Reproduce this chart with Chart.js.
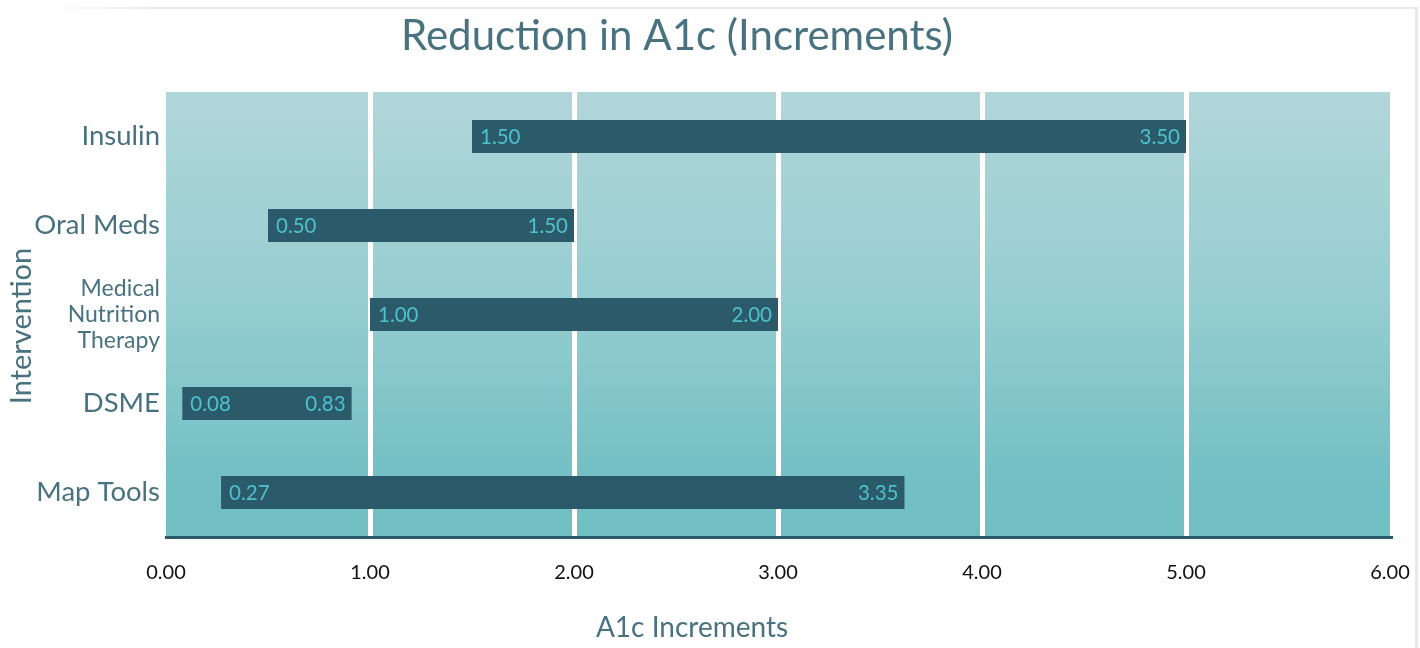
<!DOCTYPE html>
<html>
<head>
<meta charset="utf-8">
<script src="https://cdn.jsdelivr.net/npm/chart.js@4.4.1/dist/chart.umd.min.js"></script>
<style>
  html, body { margin: 0; padding: 0; background: #ffffff; }
  #wrap { position: relative; width: 1420px; height: 648px; overflow: hidden; }
  #frame {
    position: absolute; left: 0; top: 7px; width: 1418px; height: 660px;
    border-top: 2px solid #e7e9f1; border-right: 3px solid #e7e9f1;
    box-sizing: border-box; pointer-events: none;
    -webkit-mask-image: linear-gradient(to right, transparent 40px, #000 160px);
            mask-image: linear-gradient(to right, transparent 40px, #000 160px);
  }
  canvas { position: absolute; left: 0; top: 0; }
</style>
</head>
<body>
<div id="wrap">
  <div id="frame"></div>
  <canvas id="chart" width="1420" height="648"></canvas>
</div>
<script>
// Interventions on the category axis
const categories = ['Insulin', 'Oral Meds', ['Medical', 'Nutrition', 'Therapy'], 'DSME', 'Map Tools'];
// Where each reduction range starts (A1c)
const rangeStart = [1.50, 0.50, 1.00, 0.08, 0.27];
// Size of each reduction range (A1c), stacked on top of the start
const rangeSize = [3.50, 1.50, 2.00, 0.83, 3.35];
// Value axis ticks
const xTicks = [0, 1, 2, 3, 4, 5, 6];

const TEXT_BLUE = '#48727f';
const BAR_COLOR = '#2b5a6a';
const LABEL_COLOR = '#4fc1ca';
const FONT = 'Lato, "Open Sans", sans-serif';

// Vertical teal gradient behind the plot area
const plotBackground = {
  id: 'plotBackground',
  beforeDraw(chart) {
    const { ctx, chartArea: a } = chart;
    const g = ctx.createLinearGradient(0, a.top, 0, a.bottom);
    g.addColorStop(0, '#b1d6d9');
    g.addColorStop(0.45, '#97ced1');
    g.addColorStop(0.85, '#74c0c4');
    g.addColorStop(1, '#71bfc3');
    ctx.save();
    ctx.fillStyle = g;
    ctx.fillRect(a.left, a.top, a.right - a.left, a.bottom - a.top);
    ctx.restore();
  }
};

// Value text at the start and the end of every visible range bar
const rangeLabels = {
  id: 'rangeLabels',
  afterDatasetsDraw(chart) {
    const { ctx } = chart;
    const sizeMeta = chart.getDatasetMeta(1);
    ctx.save();
    ctx.font = '20.5px ' + FONT;
    ctx.fillStyle = LABEL_COLOR;
    ctx.textBaseline = 'middle';
    sizeMeta.data.forEach((bar, i) => {
      const { x, y, base } = bar.getProps(['x', 'y', 'base'], true);
      ctx.textAlign = 'left';
      ctx.fillText(rangeStart[i].toFixed(2), base + 8, y + 1);
      ctx.textAlign = 'right';
      ctx.fillText(rangeSize[i].toFixed(2), x - 6, y + 1);
    });
    ctx.restore();
  }
};

// Chart title and axis titles
const titles = {
  id: 'titles',
  afterDraw(chart) {
    const { ctx } = chart;
    ctx.save();
    ctx.fillStyle = TEXT_BLUE;
    ctx.textAlign = 'center';
    ctx.textBaseline = 'alphabetic';
    ctx.font = '42px ' + FONT;
    ctx.fillText('Reduction in A1c (Increments)', 677, 50);
    ctx.font = '28px ' + FONT;
    ctx.fillText('A1c Increments', 692, 637);
    ctx.font = '29px ' + FONT;
    ctx.translate(31, 326);
    ctx.rotate(-Math.PI / 2);
    ctx.fillText('Intervention', 0, 0);
    ctx.restore();
  }
};

new Chart(document.getElementById('chart'), {
  type: 'bar',
  data: {
    labels: categories,
    datasets: [
      {
        label: 'Start',
        data: rangeStart,
        backgroundColor: 'rgba(0,0,0,0)',
        barPercentage: 0.37,
        categoryPercentage: 1
      },
      {
        label: 'Range',
        data: rangeSize,
        backgroundColor: BAR_COLOR,
        barPercentage: 0.37,
        categoryPercentage: 1
      }
    ]
  },
  options: {
    indexAxis: 'y',
    responsive: false,
    animation: false,
    layout: { padding: { top: 92, right: 30, bottom: 0, left: 0 } },
    plugins: {
      legend: { display: false },
      tooltip: { enabled: false },
      title: { display: false }
    },
    scales: {
      x: {
        stacked: true,
        min: 0,
        max: 6,
        afterBuildTicks(scale) { scale.ticks = xTicks.map(v => ({ value: v })); },
        afterFit(scale) { scale.height = 111; scale.paddingRight = 0; scale.paddingLeft = 0; },
        ticks: {
          color: '#111111',
          font: { family: FONT, size: 20 },
          padding: 24,
          callback: v => Number(v).toFixed(2)
        },
        grid: {
          drawTicks: false,
          lineWidth: 5,
          color: ctx => (ctx.index === 0 || ctx.index === xTicks.length - 1) ? 'rgba(0,0,0,0)' : '#ffffff'
        },
        border: { display: true, color: '#2b5b6b', width: 3 }
      },
      y: {
        stacked: true,
        afterFit(scale) { scale.width = 166; },
        ticks: {
          color: TEXT_BLUE,
          padding: 6,
          font: ctx => ({ family: FONT, size: ctx.index === 2 ? 23 : 27.5, lineHeight: ctx.index === 2 ? 1.13 : 1.2 })
        },
        grid: { display: false, drawTicks: false },
        border: { display: false }
      }
    }
  },
  plugins: [plotBackground, rangeLabels, titles]
});
</script>
</body>
</html>
